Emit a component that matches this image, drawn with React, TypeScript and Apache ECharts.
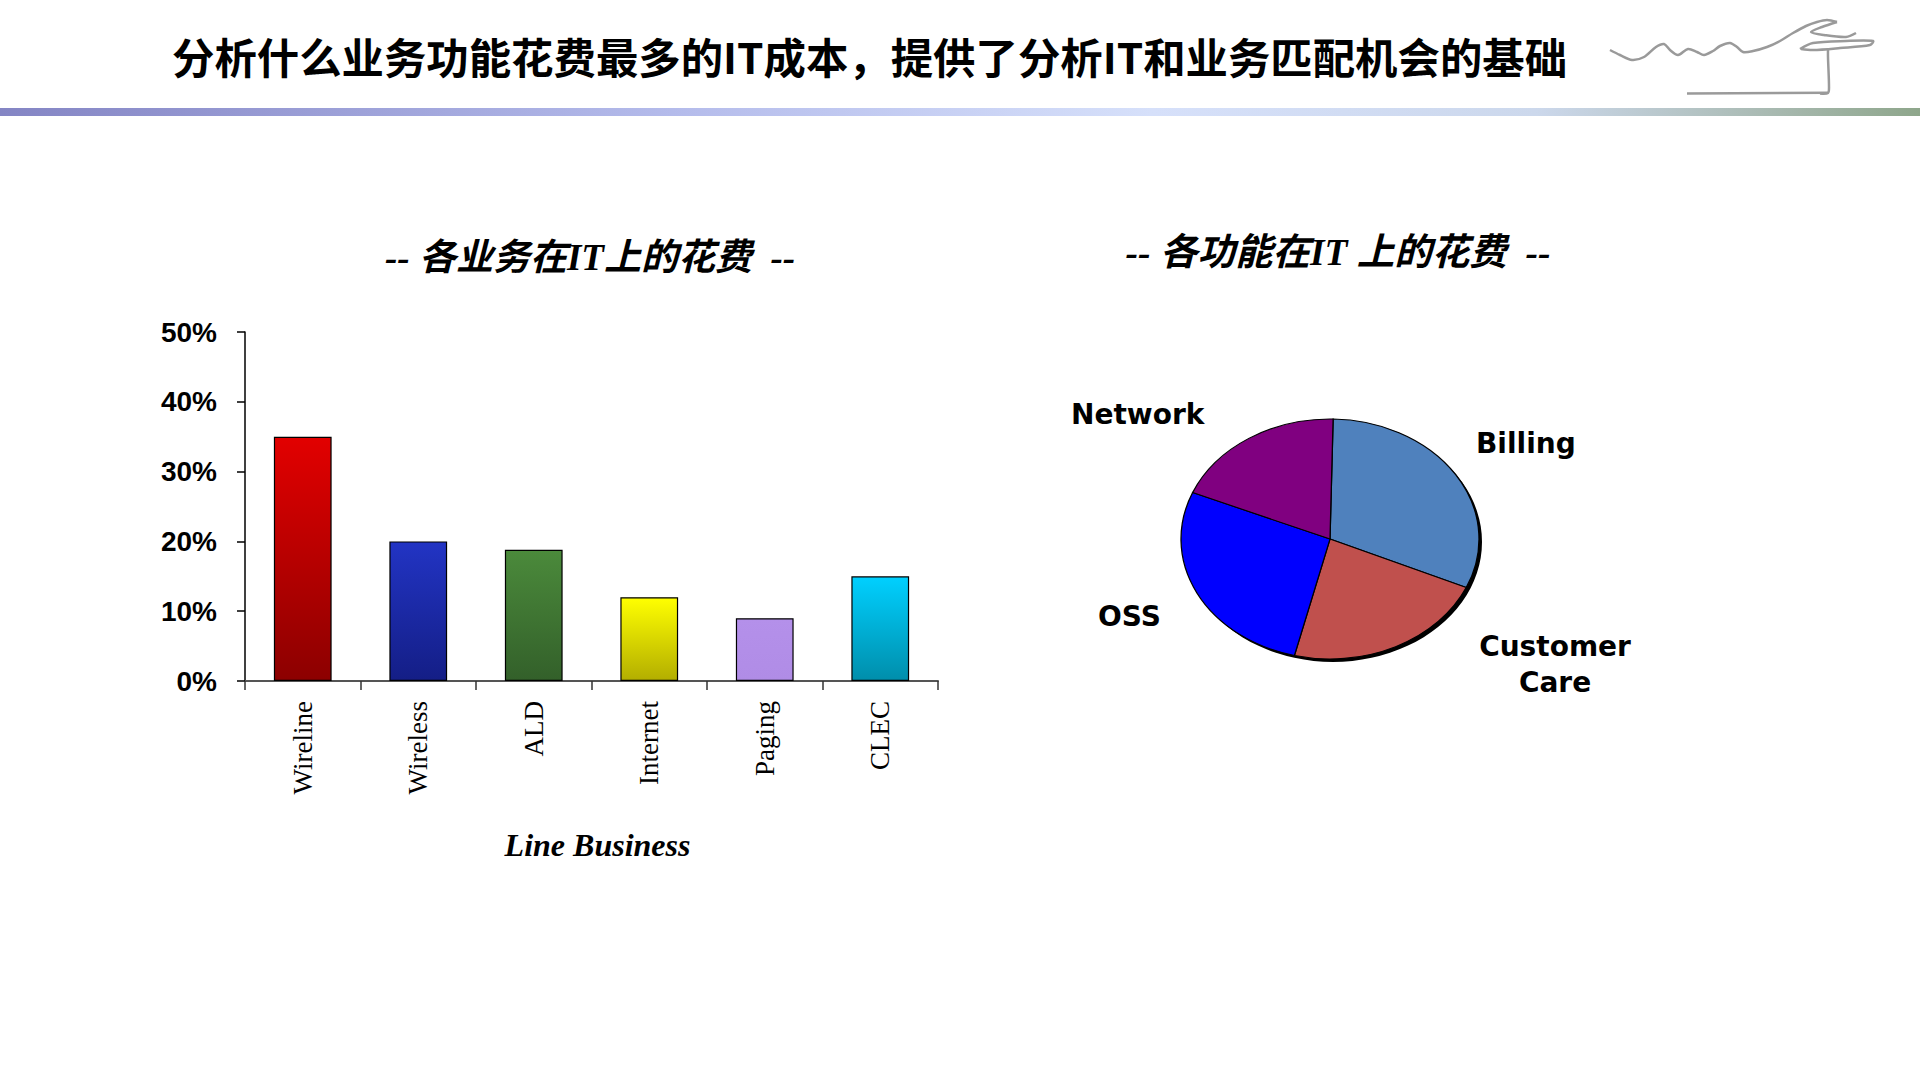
import React, { useEffect, useRef } from "react";
import * as echarts from "echarts";

// ---------- data ----------
const mainTitle = "分析什么业务功能花费最多的IT成本，提供了分析IT和业务匹配机会的基础";
const barTitle = "-- 各业务在IT上的花费  --";
const pieTitle = "-- 各功能在IT 上的花费  --";
const categories = ["Wireline", "Wireless", "ALD", "Internet", "Paging", "CLEC"];
const spendPct = [35, 20, 18.8, 12, 9, 15];
const xAxisName = "Line Business";
const yMin = 0;
const yMax = 50;
const yStep = 10;
const pieFunctions = ["Billing", "Customer Care", "OSS", "Network"];
const pieShares = [31.3, 22.2, 27.5, 19.0];

// ---------- styles / layout ----------
const barGradients: [string, string][] = [
  ["#e20000", "#8c0000"],
  ["#2234c4", "#141e86"],
  ["#4b8a3b", "#33602a"],
  ["#ffff00", "#b3ae00"],
  ["#b490ea", "#b08ce6"],
  ["#00d0ff", "#008eab"],
];
const pieColors = ["#4f81bd", "#c0504d", "#0000ff", "#800080"];
const PIE_CX = 1330;
const PIE_CY = 539;
const PIE_RX = 149;
const PIE_RY = 120;
const PIE_START = (-88.8 * Math.PI) / 180;
const pieLabelLayout = [
  { x: 1476, y: 443, align: "left" },
  { x: 1555, y: 664, align: "center" },
  { x: 1098, y: 616, align: "left" },
  { x: 1071, y: 414, align: "left" },
];

const signatureStrokes = [
  [
    [1610, 50], [1620, 55], [1632, 60], [1644, 57], [1656, 47], [1664, 44], [1670, 50],
    [1678, 55], [1688, 49], [1697, 52], [1704, 55], [1713, 51], [1720, 46],
    [1730, 43], [1737, 47], [1743, 52], [1753, 51], [1767, 47], [1780, 41],
    [1793, 33], [1806, 26], [1817, 22], [1827, 20], [1837, 22],
  ],
  [[1837, 22], [1822, 27], [1811, 32], [1824, 35], [1846, 37], [1856, 33]],
  [
    [1800, 49], [1813, 43], [1846, 41], [1873, 41], [1870, 45], [1840, 48],
    [1813, 50], [1801, 49],
  ],
  [[1828, 48], [1828, 57], [1829, 87], [1828, 93], [1820, 93.5]],
  [[1828, 92.7], [1687, 93.5]],
];

const serifFont = "'Liberation Serif','Times New Roman',serif";
const cjkItalic = "'Liberation Serif','Noto Sans CJK SC',serif";

export default function App() {
  const ref = useRef<HTMLDivElement>(null);

  useEffect(() => {
    document.body.style.margin = "0";
    if (!ref.current) return;
    const chart = echarts.init(ref.current, undefined, { renderer: "svg" });
    const total = pieShares.reduce((a, b) => a + b, 0);

    const option: any = {
      animation: false,
      backgroundColor: "#ffffff",
      grid: { left: 245, right: 982, top: 332, bottom: 399, containLabel: false },
      xAxis: {
        type: "category",
        data: categories,
        boundaryGap: true,
        axisLine: { show: true, lineStyle: { color: "#555555", width: 2 } },
        axisTick: { show: true, length: 9, lineStyle: { color: "#333333", width: 1.5 } },
        axisLabel: {
          rotate: 90,
          margin: 20,
          color: "#000",
          fontFamily: serifFont,
          fontSize: 27,
          interval: 0,
        },
        name: xAxisName,
        nameLocation: "middle",
        nameGap: 148,
        nameTextStyle: {
          color: "#000",
          fontFamily: serifFont,
          fontSize: 32,
          fontWeight: "bold",
          fontStyle: "italic",
          padding: [0, 0, 0, 12],
        },
      },
      yAxis: {
        type: "value",
        min: yMin,
        max: yMax,
        interval: yStep,
        axisLine: { show: true, lineStyle: { color: "#000", width: 1.5 } },
        axisTick: { show: true, length: 8, lineStyle: { color: "#000", width: 1.5 } },
        splitLine: { show: false },
        axisLabel: {
          formatter: "{value}%",
          margin: 28,
          color: "#000",
          fontFamily: "'Liberation Sans',Arial,sans-serif",
          fontWeight: "bold",
          fontSize: 28,
          padding: [9, 0, 0, 0],
        },
      },
      series: [
        {
          type: "bar",
          barWidth: "50%",
          silent: true,
          data: spendPct.map((v, i) => ({
            value: v,
            itemStyle: {
              color: new echarts.graphic.LinearGradient(0, 0, 0, 1, [
                { offset: 0, color: barGradients[i][0] },
                { offset: 1, color: barGradients[i][1] },
              ]),
              borderColor: "#000",
              borderWidth: 1.2,
            },
          })),
        },
        {
          type: "custom",
          coordinateSystem: "none",
          silent: true,
          data: pieShares.map((v) => [v]),
          renderItem: (params: any, api: any) => {
            const i = params.dataIndex;
            const v = api.value(0);
            let before = 0;
            for (let j = 0; j < i; j++) before += pieShares[j];
            const start = PIE_START + (before / total) * Math.PI * 2;
            const end = start + (v / total) * Math.PI * 2;
            const scaleY = PIE_RY / PIE_RX;
            const children: any[] = [];
            if (i === 0) {
              children.push({
                type: "circle",
                shape: { cx: 3, cy: 3 / scaleY, r: PIE_RX },
                style: { fill: "#000" },
              });
            }
            children.push({
              type: "sector",
              shape: { cx: 0, cy: 0, r0: 0, r: PIE_RX, startAngle: start, endAngle: end, clockwise: true },
              style: { fill: pieColors[i], stroke: "#000", lineWidth: 1.3, strokeNoScale: true },
            });
            return { type: "group", x: PIE_CX, y: PIE_CY, scaleY, children };
          },
        },
      ],
      graphic: [
        {
          type: "text",
          x: 172,
          y: 55,
          style: {
            text: mainTitle,
            fontSize: 42.4,
            fontWeight: "bold",
            fontFamily: "'Noto Sans CJK SC',sans-serif",
            fill: "#000",
            align: "left",
            verticalAlign: "middle",
          },
        },
        {
          type: "rect",
          shape: { x: 0, y: 108, width: 1920, height: 8 },
          style: {
            fill: new echarts.graphic.LinearGradient(0, 0, 1, 0, [
              { offset: 0, color: "#8485c4" },
              { offset: 0.35, color: "#b4bbeb" },
              { offset: 0.6, color: "#d6e0fa" },
              { offset: 0.8, color: "#ccd8ec" },
              { offset: 0.92, color: "#a9bab2" },
              { offset: 1, color: "#8ea68b" },
            ]),
          },
        },
        ...signatureStrokes.map((pts) => ({
          type: "polyline",
          shape: { points: pts, smooth: 0.3 },
          style: { stroke: "#9a9a9a", lineWidth: 2.5, fill: null },
        })),
        {
          type: "text",
          x: 590,
          y: 257,
          style: {
            text: barTitle,
            fontSize: 37,
            fontWeight: "bold",
            fontStyle: "italic",
            fontFamily: cjkItalic,
            fill: "#000",
            align: "center",
            verticalAlign: "middle",
          },
        },
        {
          type: "text",
          x: 1338,
          y: 252,
          style: {
            text: pieTitle,
            fontSize: 37.5,
            fontWeight: "bold",
            fontStyle: "italic",
            fontFamily: cjkItalic,
            fill: "#000",
            align: "center",
            verticalAlign: "middle",
          },
        },
        ...pieLabelLayout.map((l, i) => ({
          type: "text",
          x: l.x,
          y: l.y,
          style: {
            text: pieFunctions[i].replace(" ", "\n"),
            fontSize: 28,
            fontWeight: "bold",
            fontFamily: "'DejaVu Sans',sans-serif",
            fill: "#000",
            align: l.align,
            verticalAlign: "middle",
            lineHeight: 36,
          },
        })),
      ],
    };
    chart.setOption(option);
    return () => chart.dispose();
  }, []);

  return <div ref={ref} style={{ width: 1920, height: 1080 }} />;
}
